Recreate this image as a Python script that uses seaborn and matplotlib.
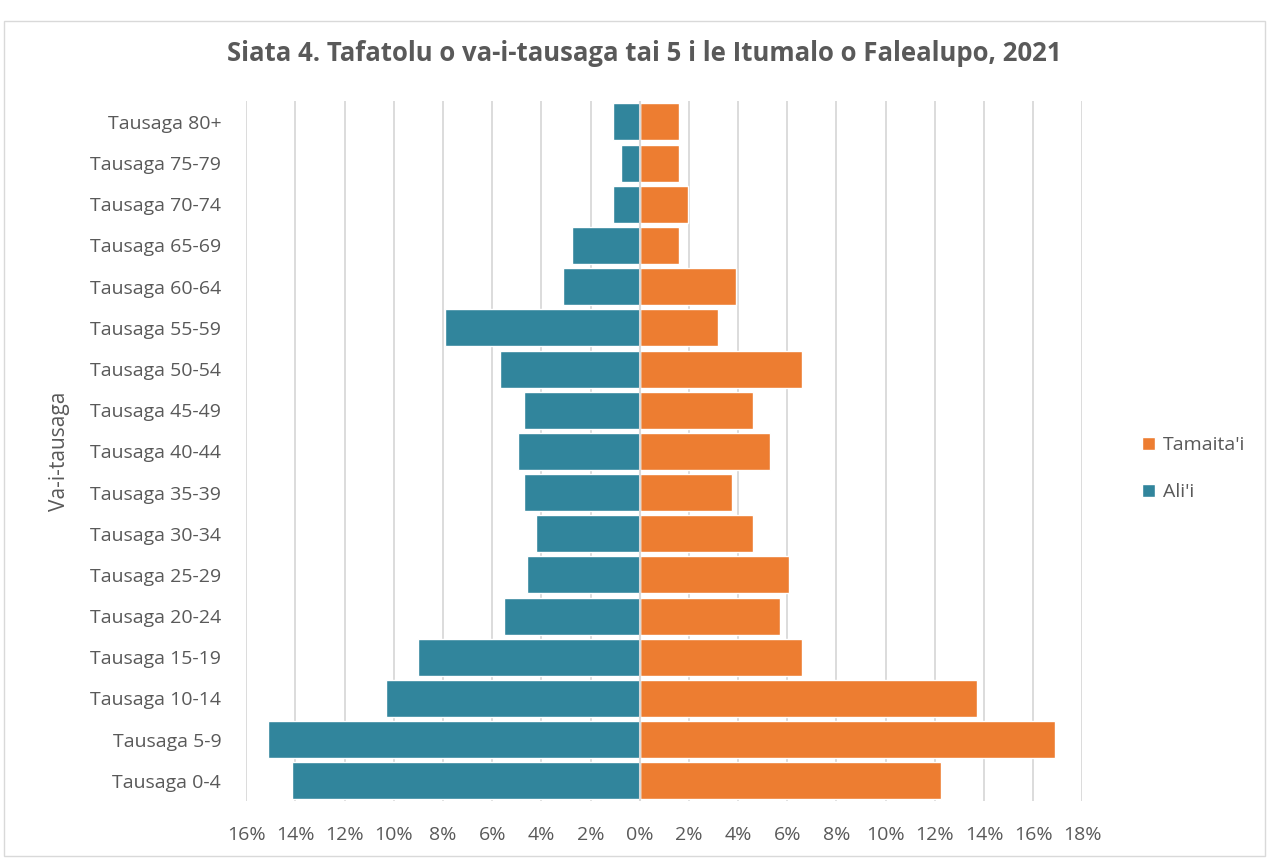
import pandas as pd
import matplotlib.pyplot as plt
import seaborn as sns
from matplotlib.ticker import FuncFormatter

# age groups, top to bottom as in the chart
age_groups = ["Tausaga 80+", "Tausaga 75-79", "Tausaga 70-74", "Tausaga 65-69",
              "Tausaga 60-64", "Tausaga 55-59", "Tausaga 50-54", "Tausaga 45-49",
              "Tausaga 40-44", "Tausaga 35-39", "Tausaga 30-34", "Tausaga 25-29",
              "Tausaga 20-24", "Tausaga 15-19", "Tausaga 10-14", "Tausaga 5-9",
              "Tausaga 0-4"]
# percent of population
males = [1.1, 0.75, 1.1, 2.75, 3.1, 7.9, 5.7, 4.7, 4.95, 4.7, 4.2, 4.6,
         5.5, 9.0, 10.3, 15.1, 14.15]
females = [1.6, 1.6, 1.95, 1.6, 3.9, 3.2, 6.6, 4.6, 5.3, 3.75, 4.6, 6.05,
           5.7, 6.6, 13.7, 16.9, 12.25]
sexes = ["Tamaita'i", "Ali'i"]
colors = {"Tamaita'i": "#ED7D31", "Ali'i": "#31859C"}

df = pd.concat([
    pd.DataFrame({"age": age_groups, "pct": females, "sex": sexes[0]}),
    pd.DataFrame({"age": age_groups, "pct": [-v for v in males], "sex": sexes[1]}),
])

sns.set_style("white")
plt.rcParams["font.family"] = ["Open Sans", "DejaVu Sans"]
grey = "#595959"

fig = plt.figure(figsize=(12.69, 8.59), dpi=100)
ax = fig.add_axes([0.194, 0.067, 0.659, 0.815])

sns.barplot(data=df, x="pct", y="age", hue="sex", hue_order=sexes, order=age_groups,
            palette=colors, dodge=False, orient="h", width=0.9,
            edgecolor="white", linewidth=1, saturation=1, ax=ax, zorder=3)

ax.set_xlim(-16, 18)
ax.set_xticks(range(-16, 19, 2))
ax.xaxis.set_major_formatter(FuncFormatter(lambda v, p: f"{abs(int(v))}%"))
ax.grid(axis="x", color="#d9d9d9", linewidth=1.3, zorder=0)
ax.axvline(0, color="#d9d9d9", linewidth=1.5, zorder=4)
for s in ax.spines.values():
    s.set_visible(False)
ax.tick_params(axis="both", length=0, labelsize=14, colors=grey)
ax.tick_params(axis="y", pad=18)
ax.tick_params(axis="x", pad=18)
ax.set_xlabel("")
ax.set_ylabel("Va-i-tausaga", fontsize=15, color=grey, labelpad=14)

fig.suptitle("Siata 4. Tafatolu o va-i-tausaga tai 5 i le Itumalo o Falealupo, 2021",
             x=0.508, y=0.953, fontsize=18.5, fontweight="bold", color=grey)

handles, labels = ax.get_legend_handles_labels()
ax.legend(handles, labels, loc="center left", bbox_to_anchor=(1.05, 0.475),
          frameon=False, fontsize=14, labelcolor=grey, handlelength=0.7,
          handleheight=0.7, handletextpad=0.4, labelspacing=1.5)

fig.patches.append(plt.Rectangle((0.003, 0.003), 0.994, 0.972, transform=fig.transFigure,
                                 fill=False, edgecolor="#d9d9d9", linewidth=1))

fig.savefig("out.png", dpi=100)
